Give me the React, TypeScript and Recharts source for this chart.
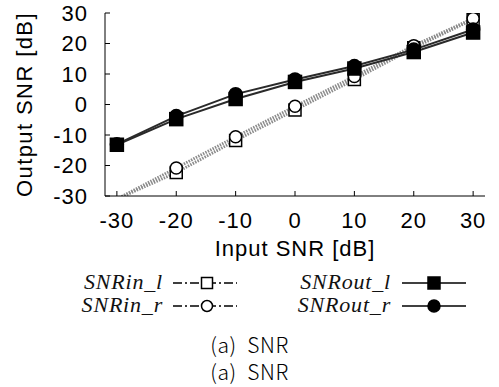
import React from "react";
import { LineChart, Line, XAxis, YAxis, Legend } from "recharts";

const inputSnr = [-30, -20, -10, 0, 10, 20, 30];
const snrInL = [-31, -22.3, -11.8, -1.8, 8.2, 18.6, 27.9];
const snrInR = [-31, -20.8, -10.6, -0.6, 9.2, 19.3, 28.2];
const snrOutL = [-13.2, -4.8, 1.8, 7.4, 11.8, 17.2, 23.6];
const snrOutR = [-13, -3.8, 3.4, 8.2, 12.6, 18, 24.6];
const xTicks = [-30, -20, -10, 0, 10, 20, 30];
const yTicks = [-30, -20, -10, 0, 10, 20, 30];
const captions = ["(a)  SNR", "(a)  SNR"];

type Marker = "square" | "circle";

const series = [
  { key: "inL", name: "SNRin_l", marker: "square" as Marker, filled: false, values: snrInL },
  { key: "inR", name: "SNRin_r", marker: "circle" as Marker, filled: false, values: snrInR },
  { key: "outL", name: "SNRout_l", marker: "square" as Marker, filled: true, values: snrOutL },
  { key: "outR", name: "SNRout_r", marker: "circle" as Marker, filled: true, values: snrOutR },
];

const data = inputSnr.map((x, i) => {
  const row: Record<string, number> = { x };
  series.forEach((s) => (row[s.key] = s.values[i]));
  return row;
});

const axisFont = { fontFamily: "'Liberation Sans', Arial, sans-serif", fontSize: 22, fill: "#000", letterSpacing: 1 };

function MarkerShape({ cx, cy, marker, filled, size }: { cx: number; cy: number; marker: Marker; filled: boolean; size: number }) {
  const fill = filled ? "#000" : "#fff";
  if (marker === "square") {
    return <rect x={cx - size / 2} y={cy - size / 2} width={size} height={size} fill={fill} stroke="#000" strokeWidth={1.5} />;
  }
  return <circle cx={cx} cy={cy} r={size / 2} fill={fill} stroke="#000" strokeWidth={1.5} />;
}

const makeDot = (s: (typeof series)[number]) => (props: any) => {
  const { cx, cy, payload, key } = props;
  // gnuplot does not draw points outside the y range
  if (cx == null || cy == null || payload[s.key] < -30) return <g key={key} />;
  return (
    <g key={key}>
      <MarkerShape cx={cx} cy={cy} marker={s.marker} filled={s.filled} size={s.filled ? 13 : 12} />
    </g>
  );
};

function renderLegend(props: any) {
  const { payload } = props;
  return (
    <div style={{ position: "relative", width: 499, height: 50 }}>
      {(payload || []).map((entry: any, i: number) => {
        const s = series.find((d) => d.key === entry.dataKey)!;
        const col = Math.floor(i / 2);
        const row = i % 2;
        const textRight = col === 0 ? 163 : 391;
        const sampleLeft = col === 0 ? 173 : 402;
        const top = row * 23;
        return (
          <div key={s.key}>
            <div
              style={{
                position: "absolute",
                left: textRight - 130,
                width: 130,
                top: top - 2,
                textAlign: "right",
                fontFamily: "'Liberation Serif', 'Times New Roman', serif",
                fontStyle: "italic",
                fontWeight: 400,
                fontSize: 22,
                letterSpacing: 0.8,
                lineHeight: "26px",
                color: "#111",
              }}
            >
              {entry.value}
            </div>
            <svg style={{ position: "absolute", left: sampleLeft, top }} width={64} height={24}>
              <line
                x1={0}
                x2={64}
                y1={12}
                y2={12}
                stroke="#000"
                strokeWidth={1.3}
                strokeDasharray={s.filled ? undefined : "9 3 2 3"}
              />
              <MarkerShape cx={s.filled ? 32 : 34} cy={12} marker={s.marker} filled={s.filled} size={s.filled ? 12 : 11} />
            </svg>
          </div>
        );
      })}
    </div>
  );
}

export default function App() {
  return (
    <div style={{ position: "absolute", left: 0, top: 0, width: 499, height: 387, background: "#fff" }}>
      <LineChart width={499} height={387} data={data} margin={{ top: 13, right: 14, left: 0, bottom: 126 }}>
        <XAxis
          dataKey="x"
          type="number"
          domain={[-32, 32]}
          ticks={xTicks}
          interval={0}
          height={65}
          tickSize={-5}
          tickMargin={21}
          stroke="#000"
          tick={axisFont}
          label={{ value: "Input SNR [dB]", position: "insideBottom", offset: 5, style: { ...axisFont } }}
        />
        <XAxis xAxisId="top" orientation="top" type="number" domain={[-32, 32]} ticks={xTicks} interval={0} height={0} tickSize={-5} tick={false} stroke="#000" />
        <YAxis
          type="number"
          domain={[-30, 30]}
          ticks={yTicks}
          interval={0}
          allowDataOverflow
          width={105}
          tickSize={-5}
          tickMargin={22}
          stroke="#000"
          tick={axisFont}
          label={{
            value: "Output SNR [dB]",
            angle: -90,
            position: "insideLeft",
            offset: 24,
            style: { ...axisFont, letterSpacing: 1.4, textAnchor: "middle" },
          }}
        />
        <YAxis yAxisId="right" orientation="right" type="number" domain={[-30, 30]} ticks={yTicks} interval={0} width={0} tickSize={-5} tick={false} stroke="#000" />
        {series.map((s) => (
          <Line
            key={s.key}
            dataKey={s.key}
            name={s.name}
            type="linear"
            stroke={s.filled ? "#2a2a2a" : "#8a8a8a"}
            strokeWidth={s.filled ? 2 : 3}
            strokeDasharray={s.filled ? undefined : "1.5 1.2"}
            dot={makeDot(s)}
            activeDot={false}
            isAnimationActive={false}
          />
        ))}
        <Legend
          layout="vertical"
          align="center"
          verticalAlign="middle"
          content={renderLegend}
          wrapperStyle={{ left: 0, top: 271, width: 499 }}
        />
      </LineChart>
      {captions.map((c, i) => (
        <div
          key={i}
          style={{
            position: "absolute",
            left: 0,
            width: 499,
            top: 330 + i * 27,
            textAlign: "center",
            whiteSpace: "pre",
            fontFamily: "'Noto Sans CJK KR', 'Noto Sans', sans-serif",
            fontWeight: 300,
            fontSize: 21,
            letterSpacing: 0.6,
            lineHeight: "28px",
            color: "#000",
          }}
        >
          {c}
        </div>
      ))}
    </div>
  );
}
